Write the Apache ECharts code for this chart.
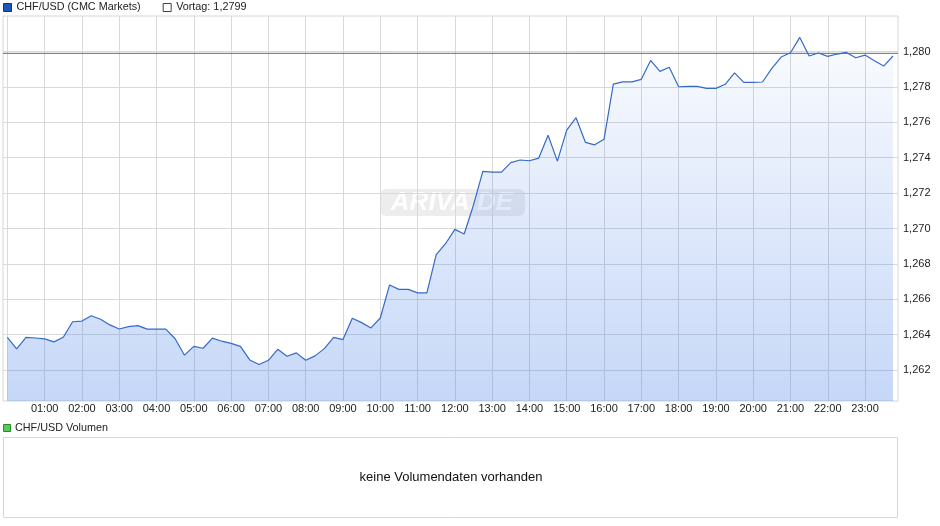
<!DOCTYPE html>
<html>
<head>
<meta charset="utf-8">
<script src="https://cdn.jsdelivr.net/npm/echarts@6/dist/echarts.min.js"></script>
<style>
html,body{margin:0;padding:0;background:#fff;}
#chart{width:940px;height:526px;}
</style>
</head>
<body>
<div id="chart"></div>
<script>
const seriesName = 'CHF/USD (CMC Markets)';
const vortagName = 'Vortag: 1,2799';
const vortag = 1.2799;
const volumeTitle = 'CHF/USD Volumen';
const volumeMessage = 'keine Volumendaten vorhanden';

const times = [
 '00:00','00:15','00:30','00:45','01:00','01:15','01:30','01:45',
 '02:00','02:15','02:30','02:45','03:00','03:15','03:30','03:45',
 '04:00','04:15','04:30','04:45','05:00','05:15','05:30','05:45',
 '06:00','06:15','06:30','06:45','07:00','07:15','07:30','07:45',
 '08:00','08:15','08:30','08:45','09:00','09:15','09:30','09:45',
 '10:00','10:15','10:30','10:45','11:00','11:15','11:30','11:45',
 '12:00','12:15','12:30','12:45','13:00','13:15','13:30','13:45',
 '14:00','14:15','14:30','14:45','15:00','15:15','15:30','15:45',
 '16:00','16:15','16:30','16:45','17:00','17:15','17:30','17:45',
 '18:00','18:15','18:30','18:45','19:00','19:15','19:30','19:45',
 '20:00','20:15','20:30','20:45','21:00','21:15','21:30','21:45',
 '22:00','22:15','22:30','22:45','23:00','23:15','23:30','23:45'
];

const prices = [
 1.26385,1.26319,1.26385,1.26381,1.26376,1.26359,1.26385,1.26473,
 1.26477,1.26507,1.26487,1.26455,1.26432,1.26445,1.26451,1.26431,
 1.26431,1.26431,1.26377,1.26284,1.26334,1.26323,1.26380,1.26363,
 1.26351,1.26334,1.26257,1.26231,1.26255,1.26317,1.26278,1.26297,
 1.26255,1.26280,1.26321,1.26385,1.26372,1.26493,1.26468,1.26438,
 1.26494,1.26681,1.26656,1.26656,1.26636,1.26636,1.26852,1.26914,
 1.26995,1.26969,1.27133,1.27323,1.27319,1.27319,1.27372,1.27387,
 1.27383,1.27398,1.27527,1.27381,1.27556,1.27626,1.27487,1.27473,
 1.27504,1.27816,1.27829,1.27829,1.27843,1.27950,1.27888,1.27911,
 1.27801,1.27803,1.27803,1.27792,1.27792,1.27815,1.27880,1.27826,
 1.27826,1.27828,1.27905,1.27969,1.27993,1.28080,1.27975,1.27992,
 1.27973,1.27986,1.27995,1.27965,1.27980,1.27948,1.27918,1.27975
];

const hourLabels = ['01:00','02:00','03:00','04:00','05:00','06:00','07:00','08:00',
 '09:00','10:00','11:00','12:00','13:00','14:00','15:00','16:00','17:00','18:00',
 '19:00','20:00','21:00','22:00','23:00'];
const hourGrid = ['00:00'].concat(hourLabels);
const yTicks = [1.262,1.264,1.266,1.268,1.270,1.272,1.274,1.276,1.278,1.280];

function toMin(s){ const p = s.split(':'); return (+p[0])*60 + (+p[1]); }
function fmtMin(v){ const h = Math.round(v/60); return (h<10?'0':'')+h+':00'; }

const lineData = times.map((t,i)=>[toMin(t), prices[i]]);
const xMin = -7, xMax = 1433;
const vortagData = [[xMin, vortag],[xMax, vortag]];

const FONT = '"Liberation Sans", Arial, sans-serif';
const chart = echarts.init(document.getElementById('chart'), null, {renderer:'canvas'});
chart.setOption({
  animation:false,
  backgroundColor:'#fff',
  textStyle:{fontFamily:FONT},
  legend:{
    left:3, top:2, padding:0,
    itemWidth:8, itemHeight:8, itemGap:22, icon:'rect',
    selectedMode:false,
    textStyle:{fontSize:10.8, color:'#222', fontFamily:FONT},
    data:[
      {name:seriesName, itemStyle:{color:'#1d55b8', borderColor:'#12367a', borderWidth:1}},
      {name:vortagName, itemStyle:{color:'#ffffff', borderColor:'#444', borderWidth:1}}
    ]
  },
  grid:{left:3, right:42, top:16, bottom:125, show:true, borderColor:'#d6d6d6', borderWidth:1, containLabel:false},
  xAxis:{
    type:'value', min:xMin, max:xMax,
    axisLine:{show:false},
    axisTick:{show:false, customValues:hourGrid.map(toMin)},
    axisLabel:{customValues:hourLabels.map(toMin), formatter:fmtMin, fontSize:11, color:'#222', margin:2, fontFamily:FONT},
    splitLine:{show:true, lineStyle:{color:'#d9d9d9', width:1}}
  },
  yAxis:{
    type:'value', position:'right', min:1.26025, max:1.28201,
    axisLine:{show:false},
    axisTick:{show:false, customValues:yTicks},
    axisLabel:{customValues:yTicks, formatter:v=>v.toFixed(3).replace('.',','), fontSize:11, color:'#222', margin:5, fontFamily:FONT},
    splitLine:{show:true, lineStyle:{color:'#d9d9d9', width:1}}
  },
  graphic:[
    {type:'group', z:1, children:[
      {type:'rect', shape:{x:380, y:189, width:145, height:27, r:6}, style:{fill:'rgba(185,185,185,0.25)'}},
      {type:'text', x:452, y:203, style:{text:'ARIVA.DE', fill:'rgba(255,255,255,0.95)', font:'italic bold 26px "Liberation Sans", Arial, sans-serif', textAlign:'center', textVerticalAlign:'middle'}}
    ]},
    {type:'rect', shape:{x:3.5, y:424.5, width:7, height:7}, style:{fill:'#55cc55', stroke:'#2a8a2a', lineWidth:1}},
    {type:'text', x:15, y:428, style:{text:volumeTitle, fill:'#222', font:'10.8px "Liberation Sans", Arial, sans-serif', textVerticalAlign:'middle'}},
    {type:'rect', shape:{x:3.5, y:437.5, width:894, height:80}, style:{fill:'none', stroke:'#d6d6d6', lineWidth:1}},
    {type:'text', x:451, y:477, style:{text:volumeMessage, fill:'#111', font:'13px "Liberation Sans", Arial, sans-serif', textAlign:'center', textVerticalAlign:'middle'}}
  ],
  series:[
    {
      name:vortagName, type:'line', data:vortagData, symbol:'none', z:3,
      lineStyle:{color:'#6a6a6a', width:1}, itemStyle:{color:'#6a6a6a'}
    },
    {
      name:seriesName, type:'line', data:lineData, symbol:'none', z:4,
      lineStyle:{color:'#346bc8', width:1.2}, itemStyle:{color:'#346bc8'},
      areaStyle:{
        origin:'start',
        color:new echarts.graphic.LinearGradient(0,0,0,1,[
          {offset:0, color:'rgba(60,120,230,0.04)'},
          {offset:1, color:'rgba(60,120,230,0.42)'}
        ])
      }
    }
  ]
});
</script>
</body>
</html>
